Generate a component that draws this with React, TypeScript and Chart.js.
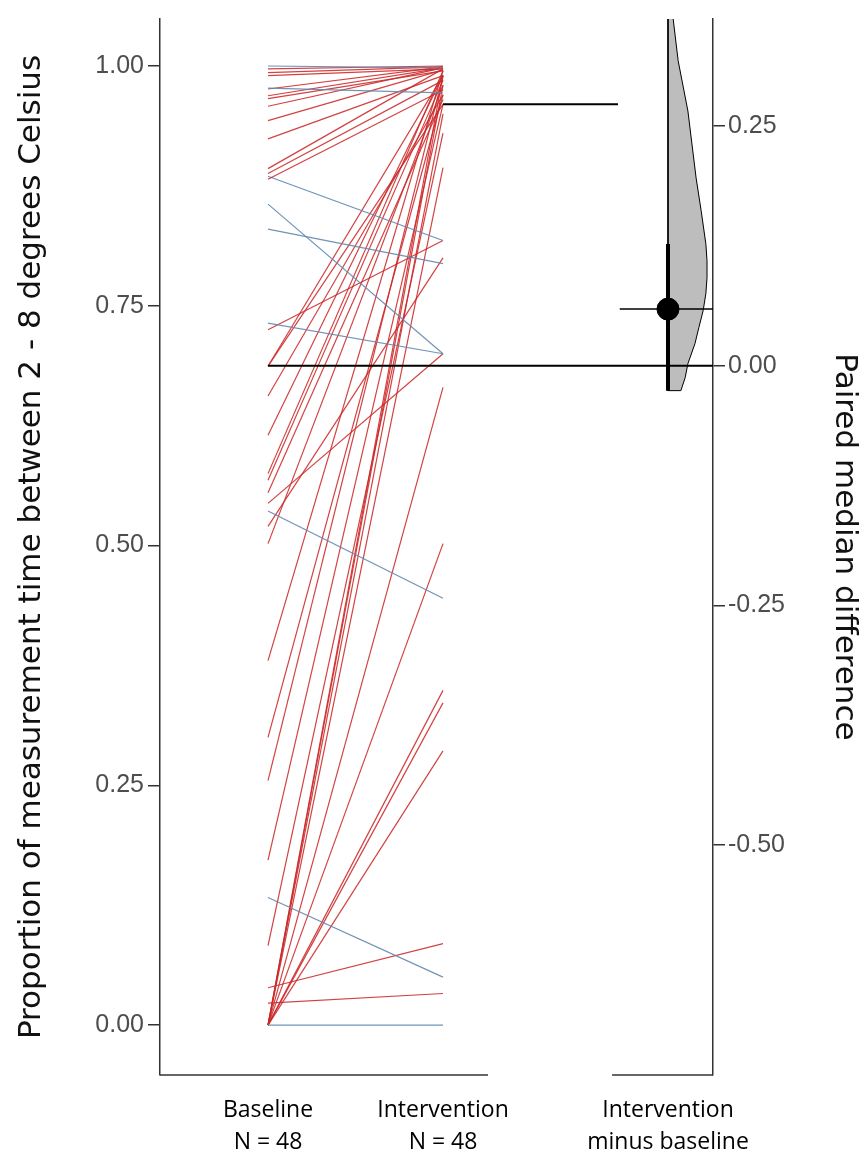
import React, { useEffect, useRef } from "react";
import { Chart, registerables } from "chart.js";

Chart.register(...registerables);

// ---------- data ----------
const groupPositions = [1, 2];
const xTickLabels = [
  ["Baseline", "N = 48"],
  ["Intervention", "N = 48"],
  ["Intervention", "minus baseline"],
];
const leftTicks = [0, 0.25, 0.5, 0.75, 1.0];
const rightTicks = [-0.5, -0.25, 0, 0.25];

const baseline = [
  1.0, 0.997, 0.993, 0.99, 0.977, 0.976, 0.969, 0.966, 0.958, 0.943, 0.924, 0.893,
  0.888, 0.882, 0.885, 0.856, 0.83, 0.732, 0.725, 0.687, 0.687, 0.656, 0.615, 0.575,
  0.568, 0.555, 0.544, 0.536, 0.52, 0.502, 0.38, 0.3, 0.255, 0.172, 0.133, 0.083,
  0.039, 0.023, 0, 0, 0, 0, 0, 0, 0, 0, 0, 0,
];
const intervention = [
  0.998, 1.0, 0.999, 0.997, 0.972, 0.999, 0.998, 0.995, 0.998, 0.996, 0.99, 0.997,
  0.985, 0.975, 0.818, 0.7, 0.794, 0.7, 0.818, 0.99, 0.96, 0.97, 0.99, 0.995,
  0.985, 0.965, 0.7, 0.445, 0.8, 0.98, 0.995, 0.97, 0.99, 0.96, 0.05, 0.93,
  0.085, 0.033, 0.0, 0.349, 0.336, 0.286, 0.502, 0.665, 0.894, 0.98, 0.95, 0.99,
];

const baselineMedian = 0.6875;
const interventionMedian = 0.96;
const pairedMedianDiff = 0.059;
const diffCI = [-0.026, 0.127];

// bootstrap density of the paired median difference (relative width)
const violinY = [
  -0.026, -0.0125, 0.0021, 0.0229, 0.0396, 0.0573, 0.075, 0.0917, 0.1094, 0.1271,
  0.1615, 0.1958, 0.2656, 0.318, 0.3625, 0.42,
];
const violinDensity = [
  0.33, 0.44, 0.51, 0.69, 0.79, 0.9, 0.97, 1.0, 1.0, 0.97, 0.85, 0.72, 0.51, 0.26,
  0.13, 0.05,
];

// ---------- layout constants (scale geometry, not data) ----------
const xMin = 0.38286;
const xMax = 3.54286;
const diffX = 3.2857;
const interventionLineEnd = 3.0;
const diffLineStart = 3.01;
const violinMaxWidth = 0.223;
const panelRanges: [number, number][] = [
  [xMin, 2.257],
  [2.966, xMax],
];

const RED = "rgba(204,40,40,0.88)";
const BLUE = "rgba(100,138,176,0.92)";
const AXIS = "#333333";

const panelAxesPlugin = {
  id: "panelAxes",
  afterDraw(chart: any) {
    const { ctx, chartArea, scales } = chart;
    const x = scales.x;
    ctx.save();
    ctx.strokeStyle = AXIS;
    ctx.lineWidth = 1.5;
    panelRanges.forEach(([a, b]) => {
      ctx.beginPath();
      ctx.moveTo(x.getPixelForValue(a), chartArea.bottom);
      ctx.lineTo(x.getPixelForValue(b), chartArea.bottom);
      ctx.stroke();
    });
    ctx.restore();
  },
};

export default function App() {
  const ref = useRef<HTMLCanvasElement>(null);

  useEffect(() => {
    const pairDatasets = baseline.map((b, i) => ({
      data: [
        { x: groupPositions[0], y: b },
        { x: groupPositions[1], y: intervention[i] },
      ],
      borderColor: intervention[i] > b ? RED : BLUE,
      borderWidth: 1.2,
      showLine: true,
      pointRadius: 0,
      yAxisID: "y",
      order: 10,
    }));

    const violinPts: { x: number; y: number }[] = [{ x: diffX, y: violinY[0] }];
    violinY.forEach((v, i) =>
      violinPts.push({ x: diffX + violinDensity[i] * violinMaxWidth, y: v })
    );
    violinPts.push({ x: diffX, y: violinY[violinY.length - 1] });
    violinPts.push({ x: diffX, y: violinY[0] });

    const datasets: any[] = [
      ...pairDatasets,
      {
        data: [
          { x: groupPositions[0], y: baselineMedian },
          { x: xMax, y: baselineMedian },
        ],
        borderColor: "#000",
        borderWidth: 2,
        showLine: true,
        pointRadius: 0,
        yAxisID: "y",
        order: 5,
      },
      {
        data: [
          { x: groupPositions[1], y: interventionMedian },
          { x: interventionLineEnd, y: interventionMedian },
        ],
        borderColor: "#000",
        borderWidth: 2,
        showLine: true,
        pointRadius: 0,
        yAxisID: "y",
        order: 5,
      },
      {
        data: violinPts,
        borderColor: "#000",
        borderWidth: 1,
        backgroundColor: "#bdbdbd",
        fill: "shape",
        showLine: true,
        pointRadius: 0,
        yAxisID: "y2",
        order: 6,
      },
      {
        data: [
          { x: diffLineStart, y: pairedMedianDiff },
          { x: xMax, y: pairedMedianDiff },
        ],
        borderColor: "#000",
        borderWidth: 1.5,
        showLine: true,
        pointRadius: 0,
        yAxisID: "y2",
        order: 3,
      },
      {
        data: [
          { x: diffX, y: diffCI[0] },
          { x: diffX, y: diffCI[1] },
        ],
        borderColor: "#000",
        borderWidth: 4,
        showLine: true,
        pointRadius: 0,
        yAxisID: "y2",
        order: 2,
      },
      {
        data: [{ x: diffX, y: pairedMedianDiff }],
        backgroundColor: "#000",
        borderColor: "#000",
        pointRadius: 11,
        showLine: false,
        yAxisID: "y2",
        order: 1,
      },
    ];

    const tickFont = { family: "'Liberation Sans', Arial, sans-serif", size: 25 };
    const titleFont = { family: "'DejaVu Sans', sans-serif", size: 31 };

    const chart = new Chart(ref.current!, {
      type: "scatter",
      data: { datasets },
      plugins: [panelAxesPlugin],
      options: {
        responsive: false,
        animation: false,
        layout: { padding: { top: 18, left: 0, right: 0, bottom: 0 } },
        plugins: { legend: { display: false }, tooltip: { enabled: false } },
        scales: {
          x: {
            type: "linear",
            min: xMin,
            max: xMax,
            grid: { display: false, drawTicks: false },
            border: { display: false },
            afterBuildTicks: (s: any) => {
              s.ticks = [groupPositions[0], groupPositions[1], diffX].map((v) => ({ value: v }));
            },
            ticks: {
              autoSkip: false,
              maxRotation: 0,
              padding: 19,
              color: "#000",
              font: { family: "'Open Sans', sans-serif", size: 23, lineHeight: 1.4 },
              callback: (_v: any, i: number) => xTickLabels[i],
            },
            afterFit: (s: any) => {
              s.height = 80;
            },
          },
          y: {
            type: "linear",
            position: "left",
            min: -0.052,
            max: 1.049,
            afterBuildTicks: (s: any) => {
              s.ticks = leftTicks.map((v) => ({ value: v }));
            },
            ticks: {
              padding: 4,
              color: "#4d4d4d",
              font: tickFont,
              callback: (v: any) => Number(v).toFixed(2),
            },
            grid: { drawOnChartArea: false, tickLength: 12, color: AXIS, lineWidth: 1.5 },
            border: { color: AXIS, width: 1.5 },
            title: {
              display: true,
              text: "Proportion of measurement time between 2 - 8 degrees Celsius",
              color: "#111",
              font: titleFont,
              padding: { top: 13, bottom: 0 },
            },
            afterFit: (s: any) => {
              s.width = 160;
            },
          },
          y2: {
            type: "linear",
            position: "right",
            min: -0.7396,
            max: 0.3615,
            afterBuildTicks: (s: any) => {
              s.ticks = rightTicks.map((v) => ({ value: v }));
            },
            ticks: {
              padding: 3,
              color: "#4d4d4d",
              font: tickFont,
              callback: (v: any) => Number(v).toFixed(2),
            },
            grid: { drawOnChartArea: false, tickLength: 12, color: AXIS, lineWidth: 1.5 },
            border: { color: AXIS, width: 1.5 },
            title: {
              display: true,
              text: "Paired median difference",
              color: "#111",
              font: titleFont,
              padding: { top: 4, bottom: 0 },
            },
            afterFit: (s: any) => {
              s.width = 154;
            },
          },
        },
      } as any,
    });
    return () => chart.destroy();
  }, []);

  return (
    <div
      style={{
        position: "absolute",
        left: 0,
        top: 0,
        width: 867,
        height: 1155,
        background: "#fff",
      }}
    >
      <canvas ref={ref} width={867} height={1155} style={{ display: "block" }} />
    </div>
  );
}
